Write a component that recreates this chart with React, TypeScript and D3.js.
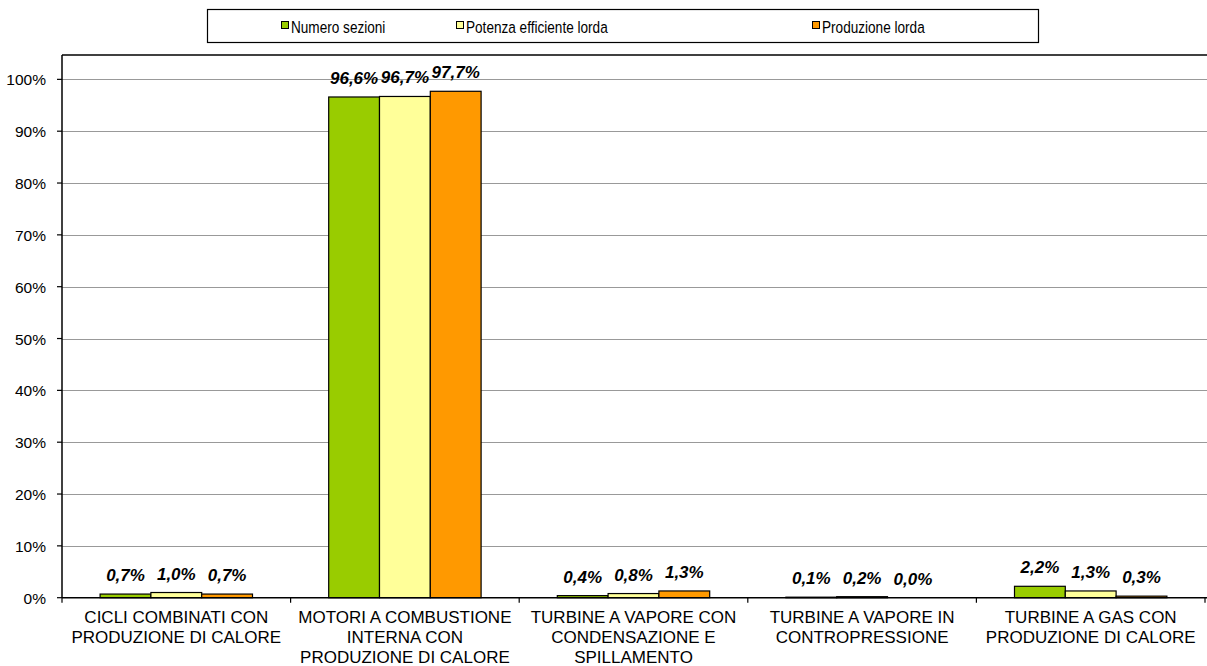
import React from "react";
import * as d3 from "d3";

const categories: string[][] = [
  ["CICLI COMBINATI CON", "PRODUZIONE DI CALORE"],
  ["MOTORI A COMBUSTIONE", "INTERNA CON", "PRODUZIONE DI CALORE"],
  ["TURBINE A VAPORE CON", "CONDENSAZIONE E", "SPILLAMENTO"],
  ["TURBINE A VAPORE IN", "CONTROPRESSIONE"],
  ["TURBINE A GAS CON", "PRODUZIONE DI CALORE"],
];
const seriesNames = ["Numero sezioni", "Potenza efficiente lorda", "Produzione lorda"];
const numeroSezioni = [0.7, 96.6, 0.4, 0.1, 2.2];
const potenzaEfficiente = [1.0, 96.7, 0.8, 0.2, 1.3];
const produzioneLorda = [0.7, 97.7, 1.3, 0.0, 0.3];
const yTicks = [0, 10, 20, 30, 40, 50, 60, 70, 80, 90, 100];

const seriesValues = [numeroSezioni, potenzaEfficiente, produzioneLorda];
const colors = ["#99CC00", "#FFFF99", "#FF9900"];

const W = 1207;
const H = 666;
const left = 62;
const right = 1205;
const top = 55;
const bottom = 597.7;

const fmt = (v: number) => v.toFixed(1).replace(".", ",") + "%";

export default function App() {
  const y = d3.scaleLinear().domain([0, 104.7]).range([bottom, top]);
  const x = d3
    .scaleBand<number>()
    .domain(categories.map((_, i) => i))
    .range([left, right])
    .paddingInner(0)
    .paddingOuter(0);
  const bw = x.bandwidth();
  // bar width = bw / 4.5 (gap width 150%)
  const barW = bw / 4.5;
  const barX = (ci: number, si: number) => (x(ci) as number) + barW * 0.75 + si * barW;

  const font = "Arial, 'Liberation Sans', sans-serif";
  const legendX = [281, 456, 812];

  return (
    <svg
      width={W}
      height={H}
      style={{ position: "absolute", left: 0, top: 0, display: "block", background: "#fff" }}
      fontFamily={font}
    >
      <rect x={0} y={0} width={W} height={H} fill="#fff" />
      {/* gridlines */}
      {yTicks.slice(1).map((t) => (
        <line key={t} x1={left} x2={W} y1={Math.round(y(t)) + 0.5} y2={Math.round(y(t)) + 0.5} stroke="#999999" strokeWidth={1} />
      ))}
      {/* plot top border */}
      <line x1={left} x2={W} y1={top} y2={top} stroke="#000" strokeWidth={1.5} />
      {/* bars */}
      {seriesValues.map((vals, si) =>
        vals.map((v, ci) => (
          <rect
            key={`${si}-${ci}`}
            x={barX(ci, si)}
            y={y(v)}
            width={barW}
            height={Math.max(0, bottom - y(v))}
            fill={colors[si]}
            stroke="#000"
            strokeWidth={1.2}
          />
        ))
      )}
      {/* data labels */}
      {seriesValues.map((vals, si) =>
        vals.map((v, ci) => (
          <text
            key={`l${si}-${ci}`}
            x={barX(ci, si) + barW / 2}
            y={y(v) - 13}
            textAnchor="middle"
            fontSize={17}
            fontWeight="bold"
            fontStyle="italic"
            fill="#000"
          >
            {fmt(v)}
          </text>
        ))
      )}
      {/* y axis */}
      <line x1={left} x2={left} y1={top} y2={bottom} stroke="#000" strokeWidth={1.5} />
      {yTicks.map((t) => (
        <g key={`yt${t}`}>
          <line x1={left - 5} x2={left} y1={y(t)} y2={y(t)} stroke="#000" strokeWidth={1.2} />
          <text x={46} y={y(t) + 6} textAnchor="end" fontSize={15.5} fill="#000">
            {t + "%"}
          </text>
        </g>
      ))}
      {/* x axis */}
      <line x1={left} x2={W} y1={bottom} y2={bottom} stroke="#000" strokeWidth={1.5} />
      {categories.map((_, ci) => (
        <line key={`xt${ci}`} x1={x(ci) as number} x2={x(ci) as number} y1={bottom} y2={bottom + 5} stroke="#000" strokeWidth={1.2} />
      ))}
      <line x1={right} x2={right} y1={bottom} y2={bottom + 5} stroke="#000" strokeWidth={1.2} />
      {categories.map((lines, ci) => (
        <text key={`cl${ci}`} textAnchor="middle" fontSize={17} fill="#000">
          {lines.map((ln, li) => (
            <tspan key={li} x={(x(ci) as number) + bw / 2} y={623 + li * 20}>
              {ln}
            </tspan>
          ))}
        </text>
      ))}
      {/* legend */}
      <rect x={207.5} y={9.5} width={831} height={33} fill="#fff" stroke="#000" strokeWidth={1.2} />
      {seriesNames.map((n, si) => (
        <g key={`lg${si}`}>
          <rect x={legendX[si] + 0.5} y={21.5} width={7} height={7} fill={colors[si]} stroke="#000" strokeWidth={1} />
          <g transform={`translate(${legendX[si] + 10},32.5) scale(0.8,1)`}>
            <text x={0} y={0} fontSize={17} fill="#000">
              {n}
            </text>
          </g>
        </g>
      ))}
    </svg>
  );
}
